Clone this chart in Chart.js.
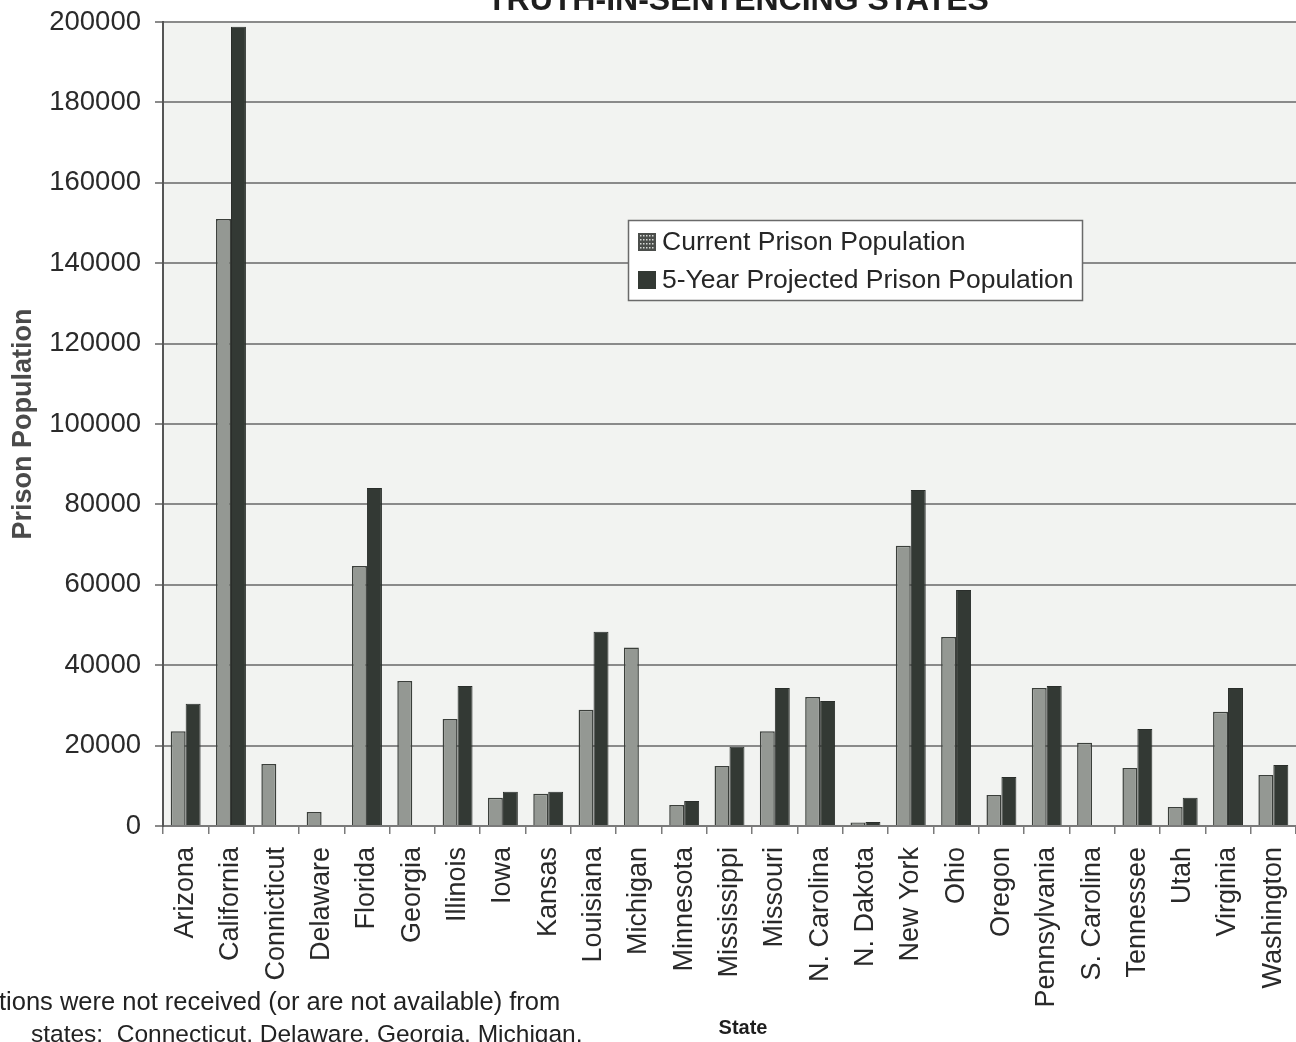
<!DOCTYPE html>
<html>
<head>
<meta charset="utf-8">
<title>Truth-in-Sentencing States</title>
<script src="https://cdn.jsdelivr.net/npm/chart.js@4/dist/chart.umd.min.js"></script>
<style>
  body { margin: 0; background: #fff; }
  #wrap { width: 1296px; height: 1042px; }
</style>
</head>
<body>
<div id="wrap"><canvas id="myChart" width="1296" height="1042"></canvas></div>
<script>
var states = ['Arizona', 'California', 'Connicticut', 'Delaware', 'Florida', 'Georgia', 'Illinois',
  'Iowa', 'Kansas', 'Louisiana', 'Michigan', 'Minnesota', 'Mississippi', 'Missouri', 'N. Carolina',
  'N. Dakota', 'New York', 'Ohio', 'Oregon', 'Pennsylvania', 'S. Carolina', 'Tennessee', 'Utah',
  'Virginia', 'Washington'];

var currentPop = [23600, 151000, 15400, 3500, 64700, 36100, 26600,
  7000, 8000, 28900, 44400, 5200, 14900, 23600, 32100,
  900, 69700, 47000, 7700, 34300, 20700, 14400, 4700,
  28400, 12700];

// null = no projection received for that state
var projectedPop = [30400, 198800, null, null, 84100, null, 34800,
  8500, 8500, 48300, null, 6200, 19700, 34300, 31100,
  1000, 83600, 58700, 12200, 34800, null, 24100, 7000,
  34300, 15200];

var seriesNames = ['Current Prison Population', '5-Year Projected Prison Population'];
var yTicks = [0, 20000, 40000, 60000, 80000, 100000, 120000, 140000, 160000, 180000, 200000];

var chartTitle = 'TRUTH-IN-SENTENCING STATES';
var xTitle = 'State';
var yTitle = 'Prison Population';
var footnote = ['tions were not received (or are not available) from',
  'states:  Connecticut, Delaware, Georgia, Michigan,'];

var FONT = '"Liberation Sans", Arial, Helvetica, sans-serif';

// light plot area behind the bars
var plotBg = {
  id: 'plotBg',
  beforeDraw: function(chart) {
    var a = chart.chartArea, ctx = chart.ctx;
    ctx.save();
    ctx.fillStyle = '#f2f3f1';
    ctx.fillRect(a.left, a.top, a.right - a.left, a.bottom - a.top);
    ctx.restore();
  }
};

// title (runs off the top), axis caption and the note at the bottom left
var extraText = {
  id: 'extraText',
  afterDraw: function(chart) {
    var ctx = chart.ctx;
    ctx.save();
    ctx.fillStyle = '#1e1e1e';
    ctx.textAlign = 'center';
    ctx.textBaseline = 'alphabetic';
    ctx.font = 'bold 32px ' + FONT;
    ctx.fillText(chartTitle, 738, 10);

    ctx.font = 'bold 20px ' + FONT;
    ctx.textBaseline = 'middle';
    ctx.fillText(xTitle, 743, 1028);

    ctx.textAlign = 'left';
    ctx.fillStyle = '#222';
    ctx.font = '25.5px ' + FONT;
    ctx.fillText(footnote[0], -1, 1003);
    ctx.font = '24.5px ' + FONT;
    ctx.fillText(footnote[1], 31, 1035);
    ctx.restore();
  }
};

// boxed legend sitting inside the plot
var boxLegend = {
  id: 'boxLegend',
  afterDraw: function(chart) {
    var ctx = chart.ctx;
    var x = 628, y = 220, w = 454, h = 80;
    ctx.save();
    ctx.fillStyle = '#ffffff';
    ctx.fillRect(x, y, w, h);
    ctx.strokeStyle = '#6a6a6a';
    ctx.lineWidth = 1.5;
    ctx.strokeRect(x + 0.5, y + 0.5, w, h);
    ctx.font = '26.5px ' + FONT;
    ctx.textBaseline = 'middle';
    chart.data.datasets.forEach(function(ds, i) {
      var cy = 242 + i * 38;
      ctx.fillStyle = i === 0 ? '#4b4e4b' : ds.backgroundColor;
      ctx.fillRect(638, cy - 9, 18, 18);
      if (i === 0) {
        // dotted swatch
        ctx.fillStyle = '#d8dad7';
        for (var py = cy - 7; py < cy + 8; py += 4) {
          for (var px = 640; px < 655; px += 3) ctx.fillRect(px, py, 1.5, 1.5);
        }
      }
      ctx.fillStyle = '#262626';
      ctx.fillText(ds.label, 662, cy + 1);
    });
    ctx.restore();
  }
};

var ctx = document.getElementById('myChart').getContext('2d');
var chart = new Chart(ctx, {
  type: 'bar',
  data: {
    labels: states,
    datasets: [{
      label: seriesNames[0],
      data: currentPop,
      backgroundColor: '#949893',
      borderColor: '#3b3f3b',
      borderWidth: 1.5
    }, {
      label: seriesNames[1],
      data: projectedPop,
      backgroundColor: '#333934',
      borderColor: '#2a2e2b',
      borderWidth: 1
    }]
  },
  plugins: [plotBg, extraText, boxLegend],
  options: {
    responsive: false,
    animation: false,
    layout: { padding: { top: 22, right: 0, left: 0, bottom: 0 } },
    datasets: {
      bar: { categoryPercentage: 0.66, barPercentage: 1.0 }
    },
    plugins: {
      legend: { display: false },
      tooltip: { enabled: false }
    },
    scales: {
      x: {
        offset: true,
        grid: {
          offset: true,
          drawOnChartArea: false,
          drawTicks: true,
          tickLength: 8,
          color: '#7a7a7a',
          lineWidth: 1.5
        },
        border: { color: '#7a7a7a', width: 2 },
        ticks: {
          minRotation: 90,
          maxRotation: 90,
          autoSkip: false,
          padding: 13,
          color: '#2a2a2a',
          font: { family: FONT, size: 27 }
        },
        afterFit: function(s) {
          s.height = 216;
          s.paddingLeft = 0;
          s.paddingRight = 0;
        }
      },
      y: {
        min: 0,
        max: 200000,
        afterBuildTicks: function(axis) {
          axis.ticks = yTicks.map(function(v) { return { value: v }; });
        },
        grid: {
          color: '#8a8a8a',
          lineWidth: 2,
          tickLength: 8
        },
        border: { color: '#555', width: 2 },
        ticks: {
          padding: 14,
          color: '#2a2a2a',
          font: { family: FONT, size: 27.5 },
          callback: function(v) { return String(v); }
        },
        title: {
          display: true,
          text: yTitle,
          color: '#4a4a4a',
          font: { family: FONT, size: 27, weight: 'bold' },
          padding: { top: 7, bottom: 0 }
        },
        afterFit: function(s) {
          s.width = 163;
          s.paddingTop = 0;
          s.paddingBottom = 0;
        }
      }
    }
  }
});
</script>
</body>
</html>
